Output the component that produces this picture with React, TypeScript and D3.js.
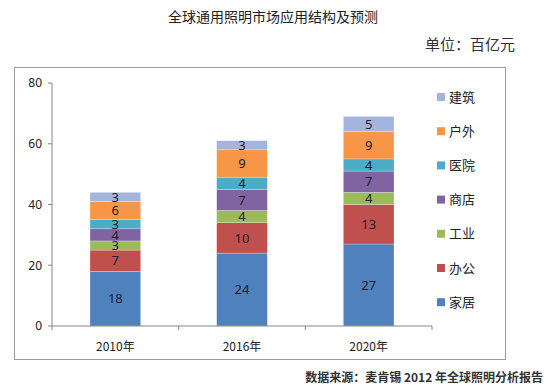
import * as d3 from "d3";

const years = ["2010年", "2016年", "2020年"];
const seriesNames = ["家居", "办公", "工业", "商店", "医院", "户外", "建筑"];
const seriesColors = ["#4F81BD", "#C0504D", "#9BBB59", "#8064A2", "#4BACC6", "#F79646", "#A3B5DD"];
const home = [18, 24, 27];
const office = [7, 10, 13];
const industry = [3, 4, 4];
const shop = [4, 7, 7];
const hospital = [3, 4, 4];
const outdoor = [6, 9, 9];
const building = [3, 3, 5];
const yTicks = [0, 20, 40, 60, 80];

const seriesValues = [home, office, industry, shop, hospital, outdoor, building];

const W = 550;
const H = 390;
const left = 52;
const right = 432;
const top = 83;
const bottom = 326;

const App = () => {
  const x = d3.scaleBand<string>().domain(years).range([left, right]).paddingInner(0.6).paddingOuter(0.3);
  const y = d3.scaleLinear().domain([0, 80]).range([bottom, top]);

  const rows = years.map((yr, i) => {
    const row: Record<string, number | string> = { year: yr };
    seriesNames.forEach((s, k) => (row[s] = seriesValues[k][i]));
    return row;
  });
  const stacked = d3.stack<Record<string, number | string>>().keys(seriesNames)(rows);

  const step = (right - left) / years.length;
  const boundaries = d3.range(years.length + 1).map((i) => left + i * step);

  const font = "'Noto Sans', 'DejaVu Sans', sans-serif";
  const cjk = "'Noto Sans CJK SC', sans-serif";

  return (
    <svg width={W} height={H} style={{ position: "absolute", left: 0, top: 0, background: "#fff" }}>
      <text x={273} y={22} textAnchor="middle" fontSize={14} fontFamily={cjk} fill="#222">
        全球通用照明市场应用结构及预测
      </text>
      <text x={515} y={50} textAnchor="end" fontSize={15} fontFamily={cjk} fill="#333">
        单位：百亿元
      </text>
      <rect x={14.5} y={67.5} width={491} height={292} fill="none" stroke="#9a9a9a" />

      {stacked.map((layer, k) =>
        layer.map((d, i) => {
          const x0 = x(years[i])!;
          const y1 = y(d[1]);
          const y0 = y(d[0]);
          return (
            <g key={`${k}-${i}`}>
              <rect x={x0} y={y1} width={x.bandwidth()} height={y0 - y1} fill={seriesColors[k]} stroke="#fff" strokeOpacity={0.5} strokeWidth={0.5} />
              <text
                x={x0 + x.bandwidth() / 2}
                y={(y0 + y1) / 2}
                dy="0.36em"
                textAnchor="middle"
                fontSize={13}
                fontFamily={font}
                fill="#1c1c2c"
              >
                {seriesValues[k][i]}
              </text>
            </g>
          );
        })
      )}

      <line x1={left} x2={left} y1={top} y2={bottom} stroke="#868686" />
      {yTicks.map((t) => (
        <g key={t}>
          <line x1={left - 4} x2={left} y1={y(t)} y2={y(t)} stroke="#868686" />
          <text x={left - 10} y={y(t)} dy="0.36em" textAnchor="end" fontSize={12} fontFamily={font} fill="#222">
            {t}
          </text>
        </g>
      ))}
      <line x1={left} x2={right} y1={bottom} y2={bottom} stroke="#868686" />
      {boundaries.map((b, i) => (
        <line key={i} x1={b} x2={b} y1={bottom} y2={bottom + 4} stroke="#868686" />
      ))}
      {years.map((yr) => (
        <text key={yr} x={x(yr)! + x.bandwidth() / 2} y={351} textAnchor="middle" fontSize={12} fontFamily={cjk} fill="#222">
          {yr}
        </text>
      ))}

      {seriesNames
        .map((s, k) => ({ s, k }))
        .reverse()
        .map(({ s, k }, i) => (
          <g key={s} transform={`translate(437, ${97 + i * 34.2})`}>
            <rect x={0} y={-4} width={8} height={8} fill={seriesColors[k]} />
            <text x={12} y={0} dy="0.36em" fontSize={13} fontFamily={cjk} fill="#222">
              {s}
            </text>
          </g>
        ))}

      <text x={543} y={382} textAnchor="end" fontSize={12} fontWeight="bold" fontFamily={cjk} fill="#333">
        数据来源：麦肯锡 2012 年全球照明分析报告
      </text>
    </svg>
  );
};

export default App;
